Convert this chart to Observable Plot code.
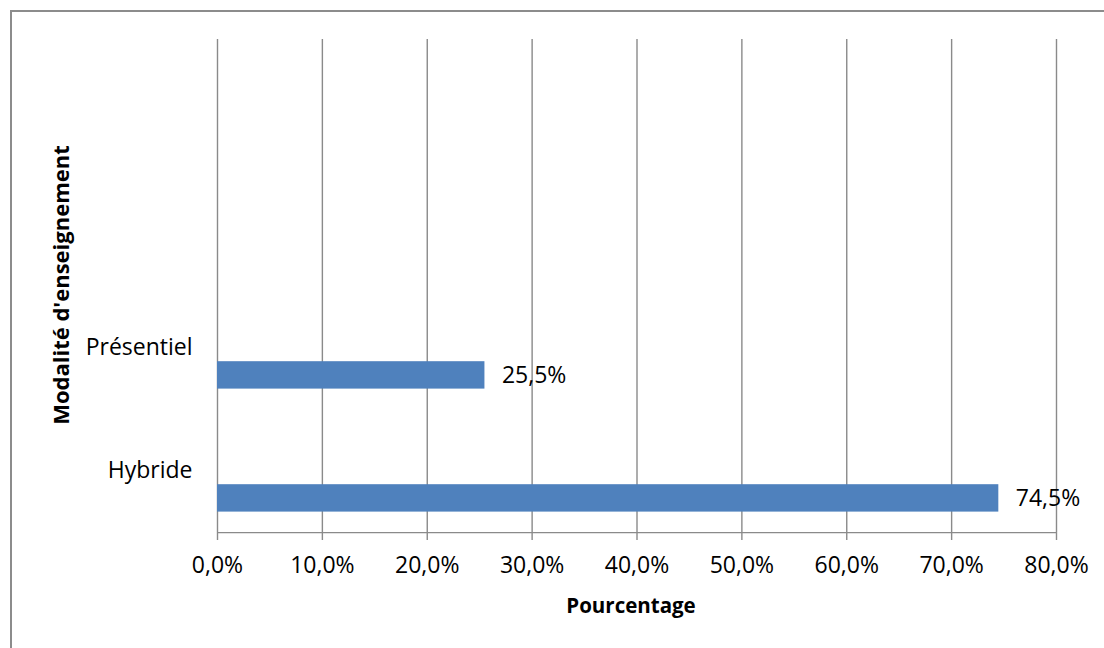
<!DOCTYPE html>
<html>
<head>
<meta charset="utf-8">
<script src="https://cdn.jsdelivr.net/npm/d3@7"></script>
<script src="https://cdn.jsdelivr.net/npm/@observablehq/plot@0.6"></script>
<style>
  html, body { margin: 0; padding: 0; background: #fff; }
  #wrap { position: relative; width: 1104px; height: 648px; overflow: hidden; }
  #frame { position: absolute; left: 10px; top: 10px; width: 1100px; height: 650px;
           border-top: 2px solid #8c8c8c; border-left: 2px solid #8c8c8c; box-sizing: border-box; pointer-events: none; }
  svg { display: block; font-family: "Open Sans", "Liberation Sans", sans-serif; }
</style>
</head>
<body>
<div id="wrap"><div id="frame"></div></div>
<script>
// Data
const categories = ["Hybride", "Présentiel"];
const values = [74.5, 25.5];
const emptySlots = ["\u200b", "\u200b\u200b"];          // two unused category slots above the bars
const xTicks = [0, 10, 20, 30, 40, 50, 60, 70, 80];
const xTitle = "Pourcentage";
const yTitle = "Modalité d'enseignement";

const data = categories.map((c, i) => ({category: c, value: values[i]}));
const yDomain = [...emptySlots, ...categories.slice().reverse()];
const fmt = d => d.toFixed(1).replace(".", ",") + "%";
const grid = "#8a8a8a";

const chart = Plot.plot({
  width: 1104,
  height: 648,
  marginLeft: 217,
  marginRight: 48,
  marginTop: 39,
  marginBottom: 116,
  style: {fontSize: "23px", fontFamily: "'Open Sans', sans-serif", color: "#000", background: "transparent"},
  x: {domain: [0, 80], ticks: xTicks},
  y: {domain: yDomain, padding: 0},
  marks: [
    Plot.gridX(xTicks, {stroke: grid, strokeOpacity: 1, strokeWidth: 1.4}),
    Plot.barX(data, {x: "value", y: "category", fill: "#4f81bd", insetTop: 75.2, insetBottom: 20.4}),
    Plot.axisX({ticks: xTicks, tickFormat: fmt, tickSize: 8, tickPadding: 16, stroke: grid, strokeWidth: 1.4, strokeOpacity: 1, label: null, fontSize: 23}),
    Plot.ruleY([categories[0]], {dy: 61.6, x1: 0, x2: 80, stroke: grid, strokeWidth: 1.4}),
    Plot.axisY({tickSize: 0, tickPadding: 25, label: null, fontSize: 23,
                tickFormat: d => categories.includes(d) ? d : ""}),
    Plot.text(data, {x: "value", y: "category", text: d => fmt(d.value), dx: 17, dy: 28,
                     textAnchor: "start", fontSize: 23, fill: "#000"}),
    Plot.text([xTitle], {frameAnchor: "bottom", dy: 80, dx: -6, fontWeight: "bold", fontSize: 20.5, fill: "#000"}),
    Plot.text([yTitle], {frameAnchor: "left", textAnchor: "middle", dx: -156, dy: -1, rotate: -90, fontWeight: "bold", fontSize: 22, fill: "#000"})
  ]
});
document.getElementById("wrap").prepend(chart);
</script>
</body>
</html>
